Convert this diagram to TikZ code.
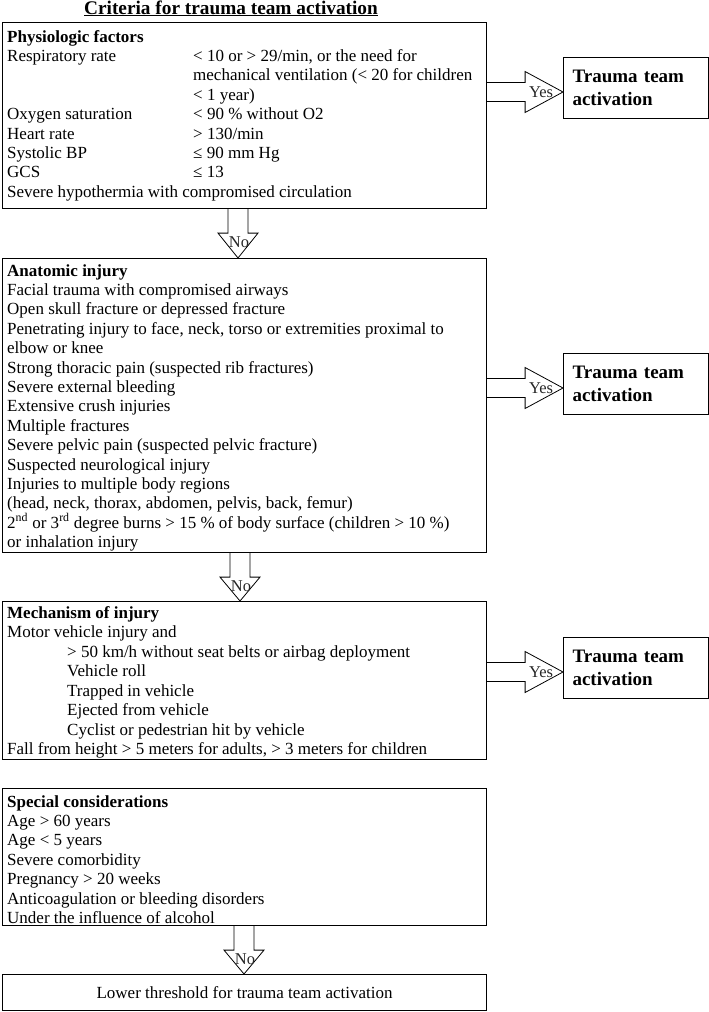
\documentclass[tikz,border=0pt]{standalone}
\usepackage{fontspec}
\setmainfont{Liberation Serif}
\usetikzlibrary{calc}
\begin{document}
\begin{tikzpicture}[x=1pt,y=-1pt,
  box/.style={draw, line width=1.1pt, anchor=north west, inner sep=0pt, minimum width=484pt},
  txt/.style={anchor=base west, inner sep=0pt, font=\fontsize{17}{19}\selectfont},
  yesbox/.style={draw, line width=1.1pt, anchor=north west, minimum width=145pt, minimum height=61pt, text width=127pt, align=left, inner sep=0pt, font=\fontsize{19}{23}\selectfont\bfseries},
  blk/.style={draw, line width=0.8pt, fill=white, line join=miter},
  lbl/.style={inner sep=0pt, font=\fontsize{16.5}{16.5}\selectfont, text=black!85}
]
\useasboundingbox (0,0) rectangle (709,1012);

% title
\node[inner sep=0pt, anchor=base, font=\fontsize{19.3}{22}\selectfont\bfseries] (title) at (231,14) {\underline{Criteria for trauma team activation}};

% main boxes
\node[box, minimum height=186pt] (b1) at (2,22) {};
\node[box, minimum height=294pt] (b2) at (2,258) {};
\node[box, minimum height=158pt] (b3) at (2,601) {};
\node[box, minimum height=137pt] (b4) at (2,788) {};
\node[box, minimum height=36pt, font=\fontsize{17}{19}\selectfont] (b5) at (2,974) {Lower threshold for trauma team activation};

% box 1 text
\foreach \n/\t in {1/{\textbf{Physiologic factors}}, 2/{Respiratory rate}, 5/{Oxygen saturation}, 6/{Heart rate}, 7/{Systolic BP}, 8/{GCS}, 9/{Severe hypothermia with compromised circulation}}
  \node[txt] (pl\n) at (7,{42+(\n-1)*19.4}) {\t};
\foreach \n/\t in {2/{< 10 or > 29/min, or the need for}, 3/{mechanical ventilation (< 20 for children}, 4/{< 1 year)}, 5/{< 90 \% without O2}, 6/{> 130/min}, 7/{≤ 90 mm Hg}, 8/{≤ 13}}
  \node[txt] (pr\n) at (193,{42+(\n-1)*19.4}) {\t};

% box 2 text
\foreach \t [count=\n] in {{\textbf{Anatomic injury}}, {Facial trauma with compromised airways}, {Open skull fracture or depressed fracture}, {Penetrating injury to face, neck, torso or extremities proximal to}, {elbow or knee}, {Strong thoracic pain (suspected rib fractures)}, {Severe external bleeding}, {Extensive crush injuries}, {Multiple fractures}, {Severe pelvic pain (suspected pelvic fracture)}, {Suspected neurological injury}, {Injuries to multiple body regions}, {(head, neck, thorax, abdomen, pelvis, back, femur)}, {2\textsuperscript{nd} or 3\textsuperscript{rd} degree burns > 15 \% of body surface (children > 10 \%)}, {or inhalation injury}}
  \node[txt] (a\n) at (7,{276+(\n-1)*19.4}) {\t};

% box 3 text
\foreach \n/\x/\t in {1/7/{\textbf{Mechanism of injury}}, 2/7/{Motor vehicle injury and}, 3/67/{> 50 km/h without seat belts or airbag deployment}, 4/67/{Vehicle roll}, 5/67/{Trapped in vehicle}, 6/67/{Ejected from vehicle}, 7/67/{Cyclist or pedestrian hit by vehicle}, 8/7/{Fall from height > 5 meters for adults, > 3 meters for children}}
  \node[txt] (m\n) at (\x,{618+(\n-1)*19.5}) {\t};

% box 4 text
\foreach \t [count=\n] in {{\textbf{Special considerations}}, {Age > 60 years}, {Age < 5 years}, {Severe comorbidity}, {Pregnancy > 20 weeks}, {Anticoagulation or bleeding disorders}, {Under the influence of alcohol}}
  \node[txt] (s\n) at (7,{807+(\n-1)*19.4}) {\t};

% trauma team boxes
\node[yesbox] (t1) at (563,57) {Trauma team\\activation};
\node[yesbox] (t2) at (563,353) {Trauma team\\activation};
\node[yesbox] (t3) at (563,637) {Trauma team\\activation};

% Yes arrows
\foreach \b/\t/\off [count=\k] in {b1/t1/70, b2/t2/130, b3/t3/71} {
  \coordinate (ys\k) at ($(\b.north east)+(0,\off)$);
  \draw[blk] ($(ys\k)+(0,-9.5)$) -- ($(ys\k)+(38,-9.5)$) -- ($(ys\k)+(38,-20.5)$)
    -- (ys\k -| \t.west) -- ($(ys\k)+(38,20.5)$) -- ($(ys\k)+(38,9.5)$) -- ($(ys\k)+(0,9.5)$);
  \node[lbl] (yl\k) at ($(ys\k)+(54,0)$) {Yes};
}

% No arrows
\foreach \b/\t/\off [count=\k] in {b1/b2/236, b2/b3/238, b4/b5/242} {
  \coordinate (ns\k) at ($(\b.south west)+(\off,0)$);
  \draw[blk] ($(ns\k)+(-10,0)$) -- ($(ns\k)+(-10,24)$) -- ($(ns\k)+(-20,24)$)
    -- (ns\k |- \t.north) -- ($(ns\k)+(20,24)$) -- ($(ns\k)+(10,24)$) -- ($(ns\k)+(10,0)$);
  \node[lbl] (nl\k) at ($(ns\k)+(1,33)$) {No};
}
\end{tikzpicture}
\end{document}
